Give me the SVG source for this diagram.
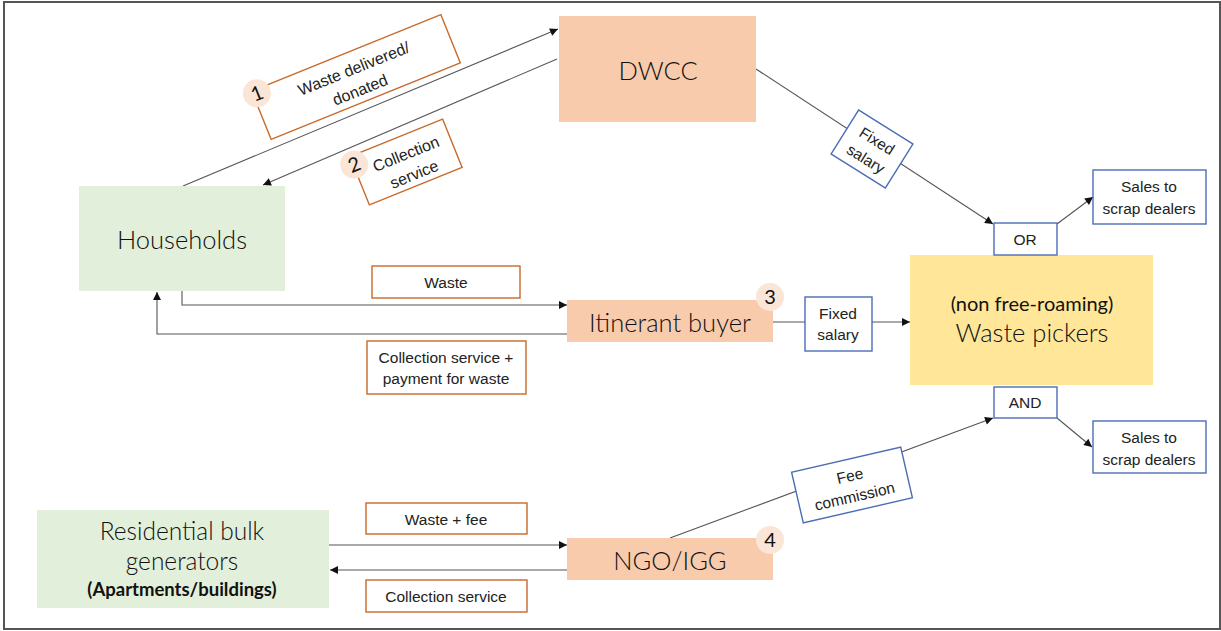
<svg xmlns="http://www.w3.org/2000/svg" width="1221" height="631" viewBox="0 0 1221 631">
  <defs>
    <marker id="arrow" viewBox="0 0 10 10" refX="10" refY="5" markerWidth="10" markerHeight="8" markerUnits="userSpaceOnUse" orient="auto">
      <path d="M0,0 L10,5 L0,10 z" fill="#111"/>
    </marker>
    <style>
      .frame { fill: #fff; stroke: #555; stroke-width: 2; }
      .link { fill: none; stroke: #555; stroke-width: 1.1; }
      .arrow { marker-end: url(#arrow); }
      .peach { fill: #F8CBAD; }
      .green { fill: #E2EFDA; }
      .yellow { fill: #FFE699; }
      .tagO { fill: #fff; stroke: #C8692A; stroke-width: 1.4; }
      .tagB { fill: #fff; stroke: #4A6DB5; stroke-width: 1.4; }
      .badge { fill: #FBE5D6; }
      .big { font-family: Lato, "Noto Sans", sans-serif; font-weight: 300; font-size: 25.5px; fill: #111; text-anchor: middle; }
      .mid { font-family: Lato, "Noto Sans", sans-serif; font-size: 20px; fill: #111; text-anchor: middle; }
      .small { font-family: "Liberation Sans", Arial, sans-serif; font-size: 15.5px; fill: #222; text-anchor: middle; }
      .tilt { font-family: "Liberation Sans", Arial, sans-serif; font-size: 16px; fill: #222; text-anchor: middle; }
      .num { font-family: Lato, "Noto Sans", sans-serif; font-size: 20px; fill: #111; text-anchor: middle; }
    </style>
  </defs>

  <!-- outer frame -->
  <rect class="frame" x="4" y="2" width="1216" height="627"/>

  <!-- connectors -->
  <g id="connectors">
    <line class="link arrow" x1="183" y1="186" x2="558" y2="29"/>
    <line class="link arrow" x1="557" y1="59" x2="263" y2="185"/>
    <line class="link arrow" x1="756" y1="69" x2="993" y2="224"/>
    <line class="link arrow" x1="1057" y1="224" x2="1093" y2="197"/>
    <polyline class="link arrow" points="182,291 182,305 567,305"/>
    <polyline class="link arrow" points="567,334 157,334 157,292"/>
    <line class="link arrow" x1="773" y1="322" x2="910" y2="322"/>
    <line class="link arrow" x1="1057" y1="418" x2="1092" y2="447"/>
    <line class="link arrow" x1="670" y1="538" x2="993" y2="418"/>
    <line class="link arrow" x1="329" y1="545" x2="567" y2="545"/>
    <line class="link arrow" x1="567" y1="570" x2="330" y2="570"/>
  </g>

  <!-- main actors -->
  <g id="dwcc">
    <rect class="peach" x="559" y="16" width="197" height="106"/>
    <text class="big" x="658" y="80">DWCC</text>
  </g>
  <g id="households">
    <rect class="green" x="79" y="186" width="206" height="105"/>
    <text class="big" x="182" y="249">Households</text>
  </g>
  <g id="itinerant-buyer">
    <rect class="peach" x="567" y="300" width="206" height="42"/>
    <text class="big" x="670" y="332">Itinerant buyer</text>
    <circle class="badge" cx="770" cy="297" r="14"/>
    <text class="num" x="770" y="304">3</text>
  </g>
  <g id="waste-pickers">
    <rect class="yellow" x="910" y="255" width="243" height="130"/>
    <text class="mid" x="1032" y="311">(non free-roaming)</text>
    <text class="big" x="1032" y="342">Waste pickers</text>
  </g>
  <g id="bulk-generators">
    <rect class="green" x="37" y="510" width="292" height="98"/>
    <text class="big" x="182" y="540" style="font-size:24.5px">Residential bulk</text>
    <text class="big" x="182" y="570" style="font-size:24.5px">generators</text>
    <text class="mid" x="182" y="596" style="font-size:18.5px;font-weight:700">(Apartments/buildings)</text>
  </g>
  <g id="ngo-igg">
    <rect class="peach" x="567" y="538" width="206" height="42"/>
    <text class="big" x="670" y="570">NGO/IGG</text>
    <circle class="badge" cx="770" cy="540" r="14"/>
    <text class="num" x="770" y="547">4</text>
  </g>

  <!-- flow labels -->
  <g id="label-delivered" transform="translate(356,77) rotate(-22)">
    <rect class="tagO" x="-102" y="-26" width="204" height="52"/>
    <text class="tilt" x="1" y="-3">Waste delivered/</text>
    <text class="tilt" x="-1" y="19">donated</text>
    <circle class="badge" cx="-98" cy="-22" r="14"/>
    <text class="num" x="-98" y="-15">1</text>
  </g>
  <g id="label-collection" transform="translate(406,162) rotate(-22)">
    <rect class="tagO" x="-50" y="-26" width="100" height="52"/>
    <text class="tilt" x="3" y="-2">Collection</text>
    <text class="tilt" x="3" y="20">service</text>
    <circle class="badge" cx="-49" cy="-17" r="14"/>
    <text class="num" x="-49" y="-10">2</text>
  </g>
  <g id="label-dwcc-salary" transform="translate(872,149) rotate(32)">
    <rect class="tagB" x="-32" y="-26" width="64" height="52"/>
    <text class="small" x="0" y="-4">Fixed</text>
    <text class="small" x="0" y="17">salary</text>
  </g>
  <g id="label-waste">
    <rect class="tagO" x="372" y="266" width="148" height="32"/>
    <text class="small" x="446" y="288">Waste</text>
  </g>
  <g id="label-payment">
    <rect class="tagO" x="367" y="341" width="159" height="53"/>
    <text class="small" x="446" y="363">Collection service +</text>
    <text class="small" x="446" y="384">payment for waste</text>
  </g>
  <g id="label-buyer-salary">
    <rect class="tagB" x="805" y="297" width="67" height="54"/>
    <text class="small" x="838" y="319">Fixed</text>
    <text class="small" x="838" y="340">salary</text>
  </g>
  <g id="label-or">
    <rect class="tagB" x="994" y="223" width="63" height="32"/>
    <text class="small" x="1025" y="245">OR</text>
  </g>
  <g id="label-and">
    <rect class="tagB" x="994" y="387" width="63" height="31"/>
    <text class="small" x="1025" y="408">AND</text>
  </g>
  <g id="sales-upper">
    <rect class="tagB" x="1093" y="170" width="113" height="54"/>
    <text class="small" x="1149" y="192">Sales to</text>
    <text class="small" x="1149" y="214">scrap dealers</text>
  </g>
  <g id="sales-lower">
    <rect class="tagB" x="1093" y="421" width="113" height="52"/>
    <text class="small" x="1149" y="443">Sales to</text>
    <text class="small" x="1149" y="465">scrap dealers</text>
  </g>
  <g id="label-fee" transform="translate(852,485) rotate(-13)">
    <rect class="tagB" x="-56" y="-26" width="112" height="52"/>
    <text class="small" x="0" y="-4">Fee</text>
    <text class="small" x="0" y="17">commission</text>
  </g>
  <g id="label-waste-fee">
    <rect class="tagO" x="366" y="503" width="161" height="31"/>
    <text class="small" x="446" y="525">Waste + fee</text>
  </g>
  <g id="label-collection-bulk">
    <rect class="tagO" x="366" y="580" width="161" height="32"/>
    <text class="small" x="446" y="602">Collection service</text>
  </g>
</svg>
